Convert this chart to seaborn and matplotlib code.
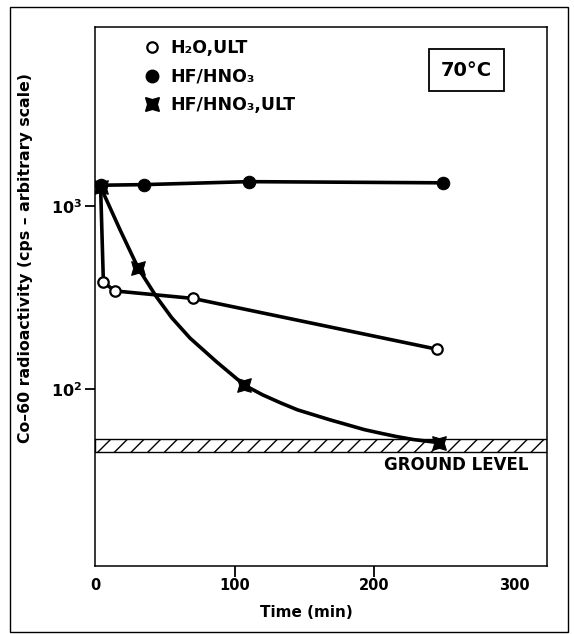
import matplotlib
matplotlib.use("Agg")
import matplotlib.pyplot as plt
from matplotlib.lines import Line2D
from matplotlib.patches import Rectangle
import seaborn as sns
import pandas as pd

# ---- data ----
h2o_t = [4, 6, 14, 70, 245]
h2o_v = [1280, 385, 344, 313, 165]

hf_t = [4, 35, 110, 249]
hf_v = [1300, 1310, 1360, 1340]

ult_curve_t = [4, 18, 31, 44, 55, 68, 87, 107, 120, 133, 145, 168, 193, 204, 216, 228, 246]
ult_curve_v = [1274, 740, 457, 319, 245, 190, 141, 105, 93, 84, 77, 68, 60, 57.5, 55, 53, 51]
ult_mark_t = [4, 31, 107, 246]
ult_mark_v = [1274, 457, 105, 51]

ground_low, ground_high = 45.4, 53.7

x_ticks = [0, 100, 200, 300]
x_labels = ["0", "100", "200", "300"]
y_ticks = [100, 1000]
y_labels = [r"$\mathbf{10^2}$", r"$\mathbf{10^3}$"]

legend_labels = ["H₂O,ULT", "HF/HNO₃", "HF/HNO₃,ULT"]

# ---- style ----
sns.set_style("white")
plt.rcParams["font.family"] = ["DejaVu Sans"]
plt.rcParams["font.weight"] = "bold"
for k in ["text.color", "axes.labelcolor", "xtick.color", "ytick.color"]:
    plt.rcParams[k] = "black"

fig = plt.figure(figsize=(5.74, 6.34), dpi=100)
ax = fig.add_axes([0.1655, 0.1073, 0.7875, 0.850])

LW = 2.6
df_h2o = pd.DataFrame({"t": h2o_t, "v": h2o_v})
df_hf = pd.DataFrame({"t": hf_t, "v": hf_v})
df_ultc = pd.DataFrame({"t": ult_curve_t, "v": ult_curve_v})
df_ultm = pd.DataFrame({"t": ult_mark_t, "v": ult_mark_v})

# ground level band
ax.axhspan(ground_low, ground_high, facecolor="white", edgecolor="black",
           hatch="//", lw=1.0, zorder=1)

sns.lineplot(data=df_h2o, x="t", y="v", ax=ax, color="black", lw=LW,
             marker="o", markersize=7.5, markerfacecolor="white",
             markeredgecolor="black", markeredgewidth=1.6, zorder=3)
sns.lineplot(data=df_ultc, x="t", y="v", ax=ax, color="black", lw=LW, zorder=4)
sns.lineplot(data=df_ultm, x="t", y="v", ax=ax, color="black", lw=0,
             marker=(4, 1, 45), markersize=14, markerfacecolor="black",
             markeredgecolor="black", zorder=5)
sns.lineplot(data=df_hf, x="t", y="v", ax=ax, color="black", lw=LW,
             marker="o", markersize=9, markerfacecolor="black",
             markeredgecolor="black", zorder=6)

ax.set_yscale("log")
ax.set_xlim(0, 323.6)
ax.set_ylim(10.8, 9510)

ax.set_xticks(x_ticks)
ax.set_xticklabels(x_labels, fontsize=10.5, fontweight="bold")
ax.set_yticks(y_ticks)
ax.set_yticklabels(y_labels, fontsize=11.5)
ax.yaxis.set_minor_locator(matplotlib.ticker.NullLocator())
ax.tick_params(axis="both", direction="out", length=7, width=1.3, color="black",
               bottom=True, left=True, pad=2)
ax.tick_params(axis="x", length=8, pad=1)
xt = ax.xaxis.get_major_ticks()
xt[0].tick1line.set_visible(False)
xt[-1].tick1line.set_visible(False)

for s in ax.spines.values():
    s.set_color("black")
    s.set_linewidth(1.1)

ax.set_xlabel("Time (min)", fontsize=11, fontweight="bold")
ax.xaxis.set_label_coords(0.467, -0.072)
ax.set_ylabel("Co–60 radioactivity (cps – arbitrary scale)", fontsize=11.3,
              fontweight="bold")
ax.yaxis.set_label_coords(-0.137, 0.571)

# legend (markers only)
handles = [
    Line2D([], [], ls="none", marker="o", markersize=7.5, markerfacecolor="white",
           markeredgecolor="black", markeredgewidth=1.6),
    Line2D([], [], ls="none", marker="o", markersize=9, markerfacecolor="black",
           markeredgecolor="black"),
    Line2D([], [], ls="none", marker=(4, 1, 45), markersize=14,
           markerfacecolor="black", markeredgecolor="black"),
]
leg = ax.legend(handles, legend_labels, loc="upper left",
                bbox_to_anchor=(0.106, 0.978), frameon=False, borderaxespad=0,
                borderpad=0, handlelength=1.0, handletextpad=0.6,
                labelspacing=0.62, prop={"size": 12.5, "weight": "bold"})

ax.text(0.822, 0.920, "70°C", transform=ax.transAxes, ha="center", va="center",
        fontsize=14, fontweight="bold",
        bbox=dict(boxstyle="square,pad=0.6", facecolor="white",
                  edgecolor="black", lw=1.3))

ax.text(0.96, 0.188, "GROUND LEVEL", transform=ax.transAxes, ha="right",
        va="center", fontsize=12, fontweight="bold")

# outer frame of the figure
fig.patches.append(Rectangle((10 / 574, 1 - 632 / 634), 558 / 574, 625 / 634,
                             transform=fig.transFigure, fill=False,
                             edgecolor="black", lw=1.0))

fig.savefig("out.png", dpi=100, facecolor="white")
